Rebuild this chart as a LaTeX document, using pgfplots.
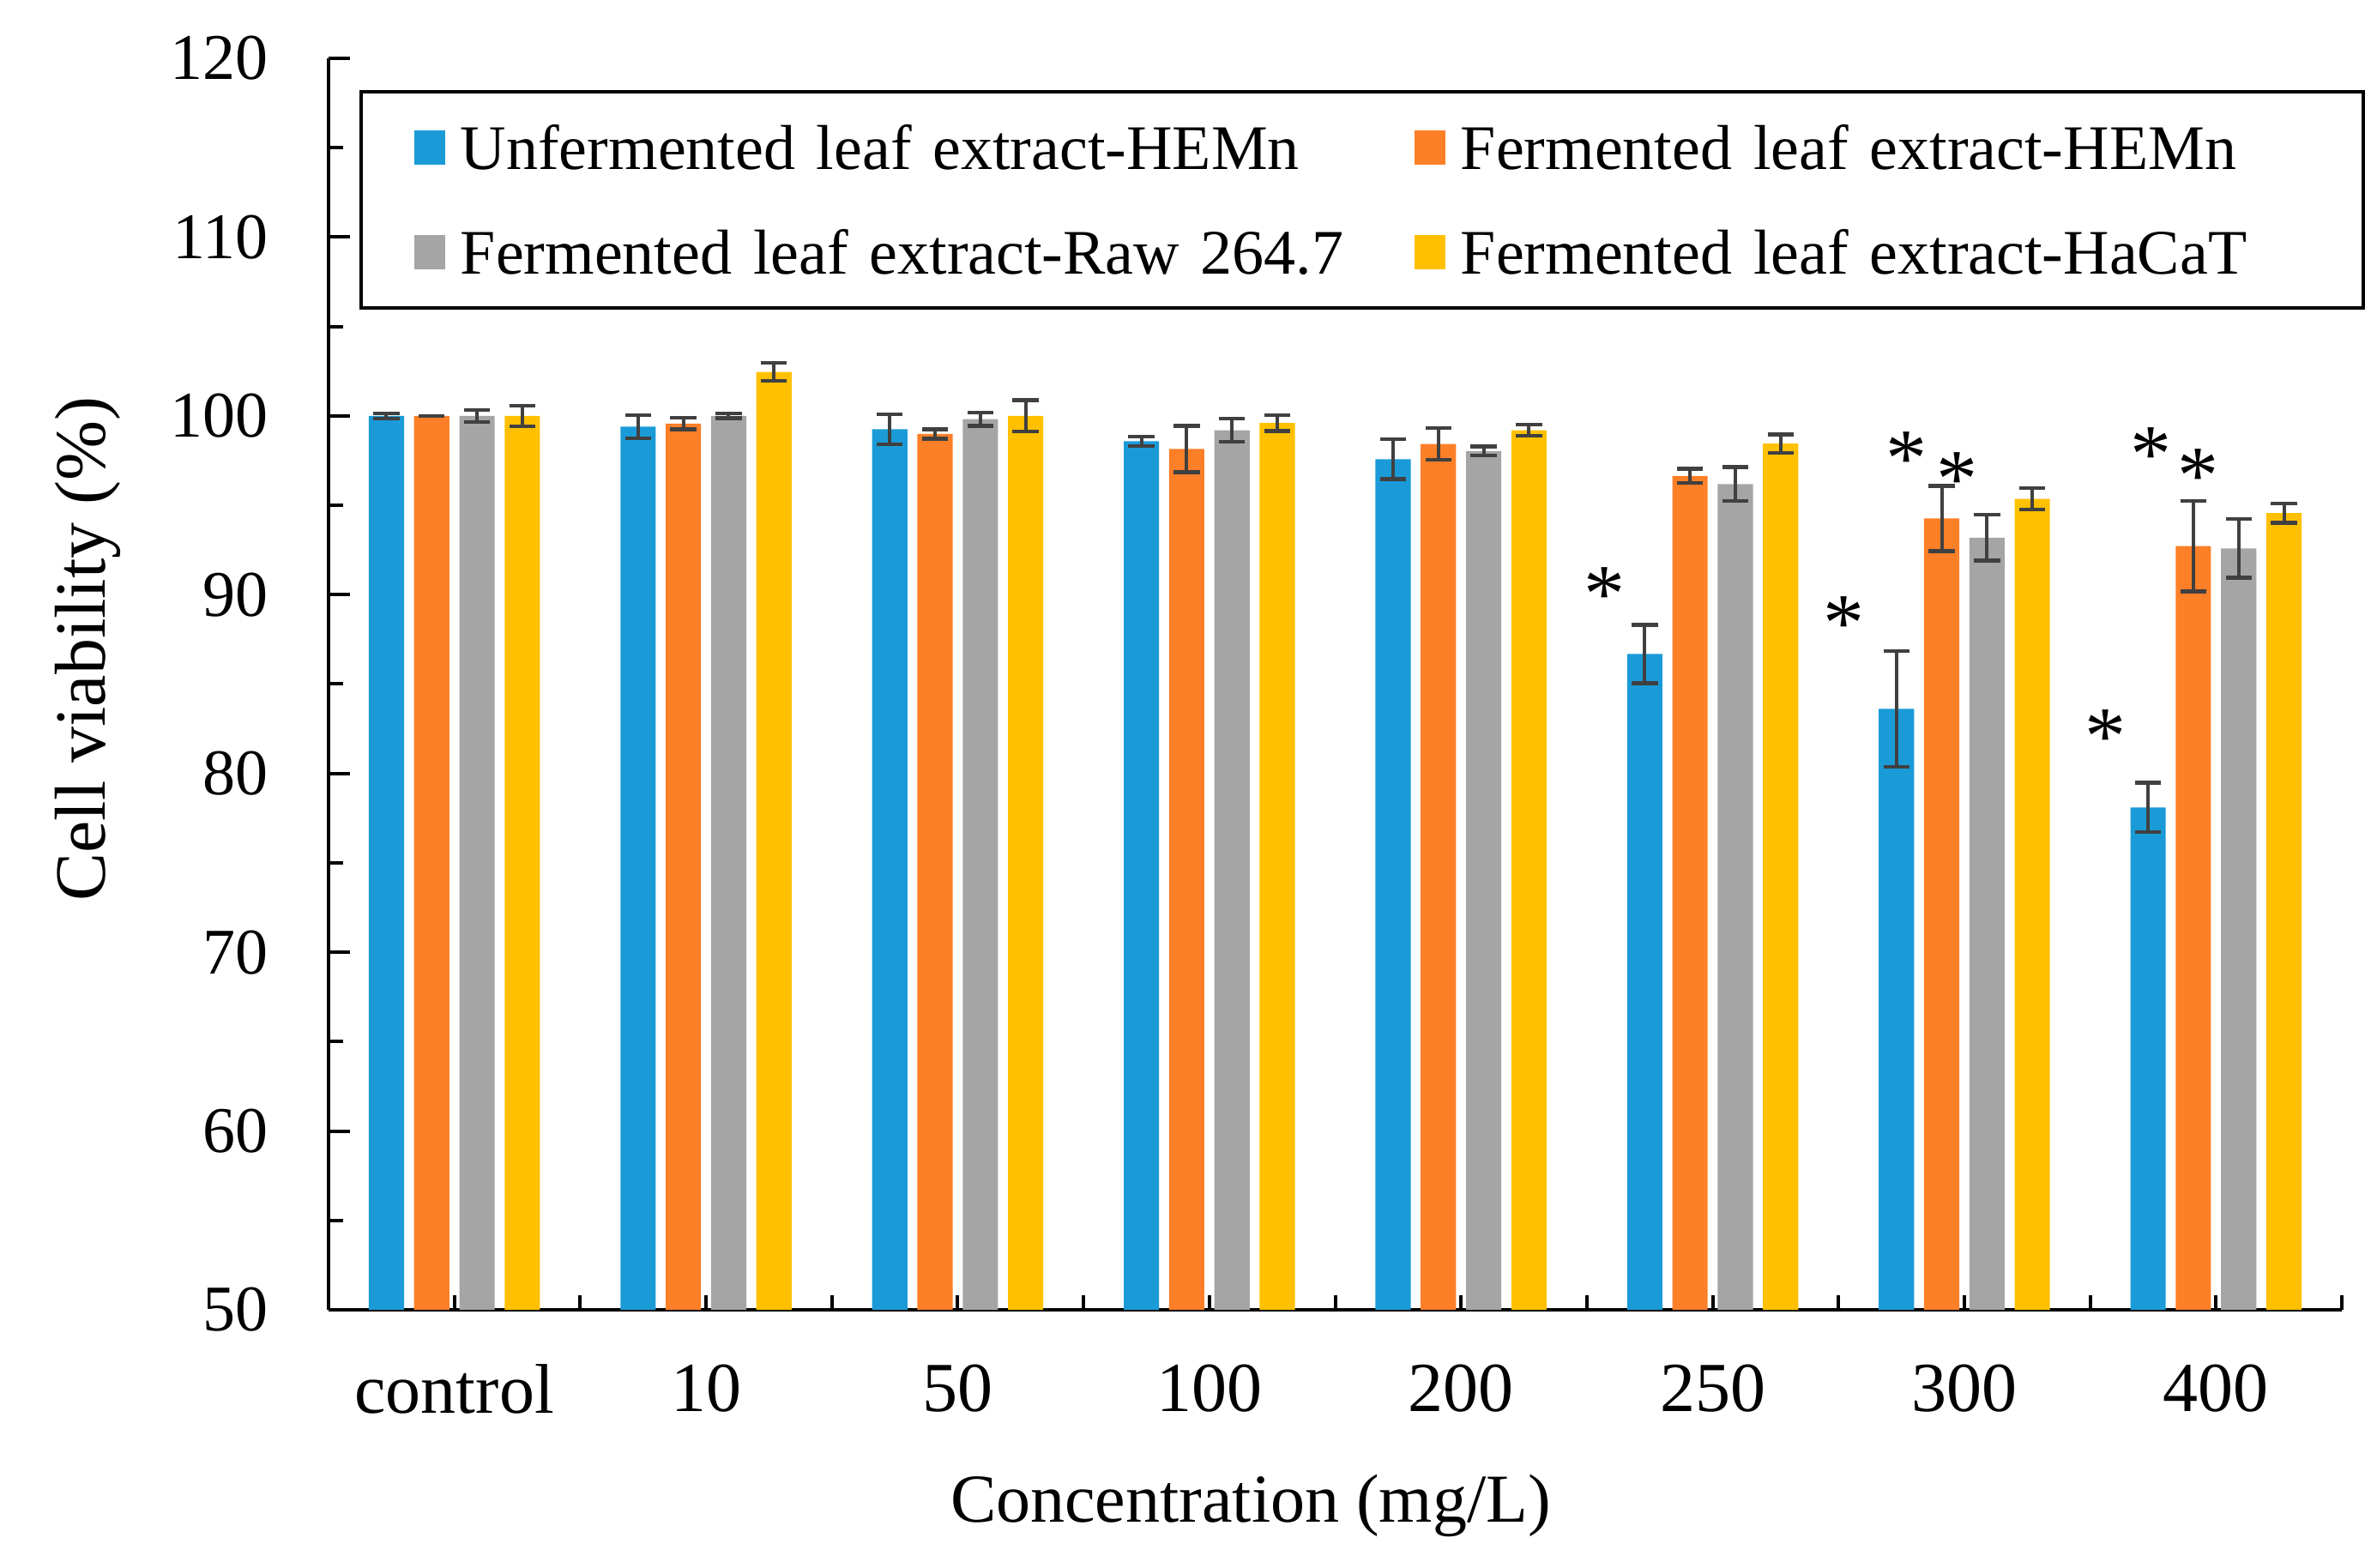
\documentclass[border=0pt]{standalone}
\usepackage{fontspec}
\setmainfont{Liberation Serif}
\usepackage{pgfplots}
\usepackage{pgfplotstable}
\pgfplotsset{compat=1.18}

\definecolor{cblue}{RGB}{26,155,215}
\definecolor{corange}{RGB}{253,127,39}
\definecolor{cgray}{RGB}{165,165,165}
\definecolor{cyellow}{RGB}{255,192,0}
\definecolor{errgray}{RGB}{64,64,64}

% x = group index, a..d = series means, ea..ed = error
\pgfplotstableread{
x a     ea    b     eb    c     ec    d      ed
0 100.0 0.15  100.0 0.0   100.0 0.33  100.0  0.58
1 99.4  0.65  99.57 0.32  100.0 0.13  102.46 0.50
2 99.25 0.83  98.99 0.26  99.82 0.37  100.0  0.88
3 98.58 0.26  98.15 1.30  99.2  0.65  99.6   0.44
4 97.58 1.12  98.43 0.88  98.03 0.25  99.2   0.32
5 86.68 1.63  96.64 0.40  96.18 0.95  98.45  0.51
6 83.61 3.23  94.26 1.83  93.19 1.28  95.36  0.59
7 78.1  1.39  92.72 2.53  92.59 1.64  94.56  0.55
}\viab

\pgfplotsset{
  barstyle/.style={
    ybar, bar width=0.14, bar shift=0pt, draw=none, fill=#1,
    error bars/.cd, y dir=both, y explicit,
    error bar style={line width=1pt, draw=errgray},
    error mark options={rotate=90, mark size=3.8pt, line width=1.1pt, draw=errgray},
  },
}

\begin{document}
\begin{tikzpicture}
\begin{axis}[
    scale only axis,
    width=586.75pt, height=364.75pt,
    xmin=-0.5, xmax=7.5,
    ymin=50, ymax=120,
    axis x line*=bottom, axis y line*=left,
    axis line style={line width=1.2pt},
    tick style={line width=1pt, black},
    tick align=inside,
    major tick length=6.25pt, minor tick length=4.25pt,
    xtick={0,...,7},
    xticklabels={control,10,50,100,200,250,300,400},
    minor xtick={-0.5,0,...,7.5},
    major x tick style={draw=none},
    ytick={50,60,...,120},
    minor ytick={55,65,...,115},
    /pgf/number format/assume math mode=true,
    yticklabel style={font=\fontsize{19}{22}\selectfont, xshift=-14pt},
    xticklabel style={font=\fontsize{20.5}{24}\selectfont, yshift=-12.5pt},
    xlabel={Concentration (mg/L)},
    ylabel={Cell viability (\%)},
    xlabel style={font=\fontsize{20}{24}\selectfont,
      at={(axis description cs:0.458,-0.170)}, anchor=base},
    ylabel style={font=\fontsize{21}{24}\selectfont,
      at={(axis description cs:-0.1112,0.528)}, anchor=base},
    clip=false,
    legend columns=2,
    legend cell align=left,
    legend image code/.code={\fill[#1] (0pt,-5pt) rectangle (9pt,5pt);},
    legend style={
      at={(0.0153,0.9746)}, anchor=north west,
      draw=black, line width=1pt,
      font=\fontsize{18.5}{22}\selectfont,
      inner xsep=15.5pt, inner ysep=7.5pt,
      row sep=13pt,
      nodes={inner xsep=0pt, inner ysep=0pt, text height=15pt, text depth=2.5pt},
      /tikz/every odd column/.append style={column sep=4.5pt},
      /tikz/column 2/.style={nodes={text width=278pt}},
      /tikz/column 4/.style={nodes={text width=247.5pt}},
    },
]
\addplot[barstyle=cblue]
  table[x expr=\thisrow{x}-0.27, y=a, y error=ea] {\viab};
\addplot[barstyle=corange]
  table[x expr=\thisrow{x}-0.09, y=b, y error=eb] {\viab};
\addplot[barstyle=cgray]
  table[x expr=\thisrow{x}+0.09, y=c, y error=ec] {\viab};
\addplot[barstyle=cyellow]
  table[x expr=\thisrow{x}+0.27, y=d, y error=ed] {\viab};
\legend{Unfermented leaf extract-HEMn, Fermented leaf extract-HEMn,
        Fermented leaf extract-Raw 264.7, Fermented leaf extract-HaCaT}

% significance marks
\addplot[draw=none, mark=none, forget plot,
  nodes near coords={*},
  every node near coord/.append style={anchor=center, inner sep=0pt, yshift=-3pt,
    font=\fontsize{24}{26}\selectfont}]
  coordinates {(4.57,90.6) (5.52,88.96) (5.77,98.18) (5.97,97.0)
               (6.56,82.6) (6.74,98.4) (6.93,97.2)};

\path (rel axis cs:-0.1632,-0.2063) rectangle (rel axis cs:1.0145,1.0466);
\end{axis}
\end{tikzpicture}
\end{document}
